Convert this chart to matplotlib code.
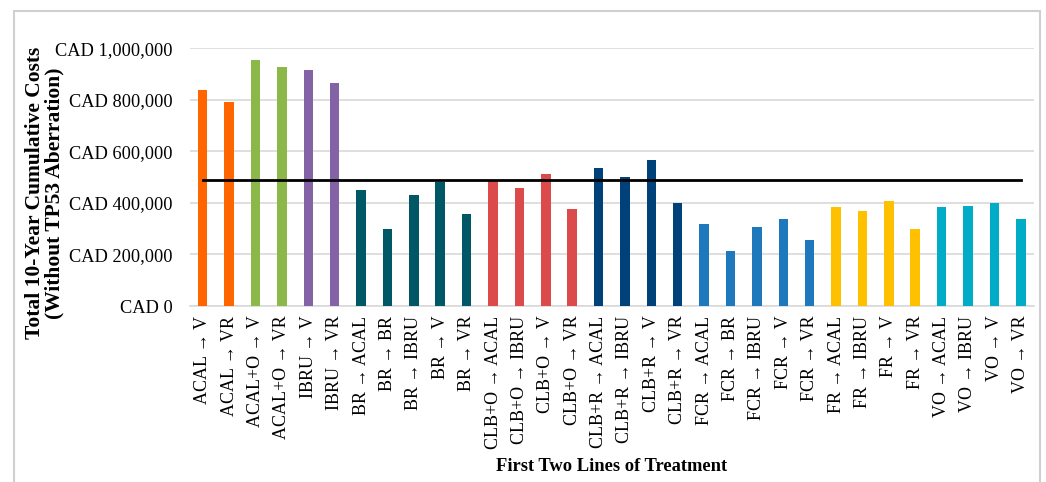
import matplotlib
matplotlib.use("Agg")
import matplotlib.pyplot as plt
from matplotlib.patches import Rectangle
from matplotlib.ticker import FuncFormatter

# chart data
labels = [
    "ACAL → V", "ACAL → VR", "ACAL+O → V", "ACAL+O → VR", "IBRU → V", "IBRU → VR",
    "BR → ACAL", "BR → BR", "BR → IBRU", "BR → V", "BR → VR",
    "CLB+O → ACAL", "CLB+O → IBRU", "CLB+O → V", "CLB+O → VR",
    "CLB+R → ACAL", "CLB+R → IBRU", "CLB+R → V", "CLB+R → VR",
    "FCR → ACAL", "FCR → BR", "FCR → IBRU", "FCR → V", "FCR → VR",
    "FR → ACAL", "FR → IBRU", "FR → V", "FR → VR",
    "VO → ACAL", "VO → IBRU", "VO → V", "VO → VR",
]
costs = [
    837000, 793000, 953000, 929000, 917000, 865000,
    451000, 299000, 432000, 480000, 356000,
    489000, 459000, 512000, 375000,
    537000, 501000, 568000, 400000,
    320000, 215000, 307000, 339000, 255000,
    383000, 367000, 407000, 299000,
    383000, 388000, 400000, 339000,
]
group_sizes = [2, 2, 2, 5, 4, 4, 5, 4, 4]
group_colors = ["#FF6600", "#8CB84A", "#8462A6", "#005866", "#DC4B4B",
                "#00417A", "#1D78BC", "#FFC000", "#00ACC6"]
threshold = 488000
yticks = [0, 200000, 400000, 600000, 800000, 1000000]

colors = []
for n, c in zip(group_sizes, group_colors):
    colors += [c] * n

plt.rcParams['font.family'] = ['Liberation Serif', 'DejaVu Serif']

fig = plt.figure(figsize=(10.46, 4.82), dpi=100)
ax = fig.add_axes([0.1812, 0.3651, 0.8073, 0.5347])

x = list(range(len(labels)))
ax.bar(x, costs, width=0.36, color=colors, zorder=3)
ax.plot([x[0], x[-1]], [threshold, threshold], color="black", lw=2, zorder=4)

ax.set_xlim(-0.5, len(labels) - 0.5)
ax.set_ylim(0, 1000000)
ax.set_yticks(yticks)
ax.yaxis.set_major_formatter(FuncFormatter(lambda v, p: "CAD {:,}".format(int(v))))
ax.set_xticks(x)
ax.set_xticklabels(labels, rotation=90, fontsize=13)
ax.tick_params(axis="y", labelsize=13.2, length=0, pad=12)
ax.tick_params(axis="x", length=0, pad=7)
ax.grid(axis="y", color="#d9d9d9", lw=1.2, zorder=0)
for s in ["top", "right", "left"]:
    ax.spines[s].set_visible(False)
ax.spines["bottom"].set_color("#d9d9d9")
ax.spines["bottom"].set_linewidth(1.2)

fig.text(0.0425, 0.599, "Total 10-Year Cumulative Costs\n(Without TP53 Aberration)",
         rotation=90, ha="center", va="center", fontsize=15.5, fontweight="bold",
         linespacing=0.95)
fig.text(0.5846, 0.033, "First Two Lines of Treatment", ha="center", va="center",
         fontsize=13.3, fontweight="bold")

# light frame around the figure
fig.patches.append(Rectangle((0.013, -0.05), 0.981, 1.027, transform=fig.transFigure,
                             fill=False, edgecolor="#d0d0d0", lw=1.5))

fig.savefig("out.png", dpi=100)
